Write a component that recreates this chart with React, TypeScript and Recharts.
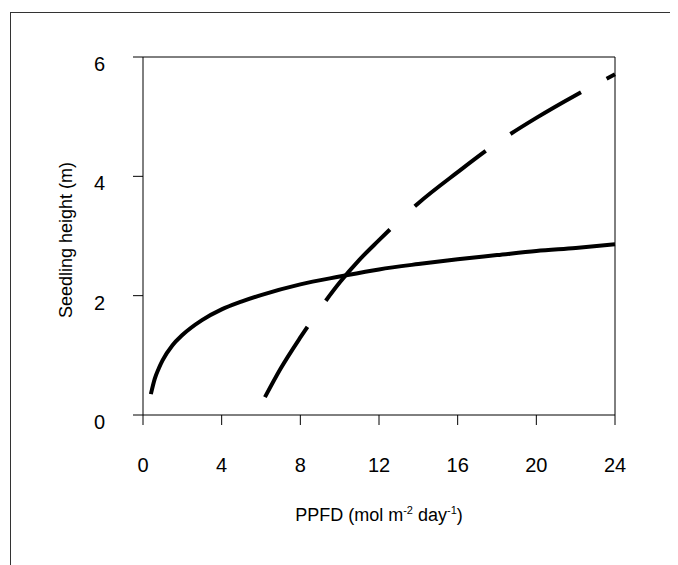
import React from 'react';
import { LineChart, Line, XAxis, YAxis, ReferenceLine, Label } from 'recharts';

// PPFD (x) vs seedling height (y)
const solidX = [0.4, 0.6, 0.8, 1, 1.5, 2, 3, 4, 5, 6, 8, 10, 12, 14, 16, 18, 20, 22, 24];
const solidY = [0.35, 0.61, 0.78, 0.92, 1.17, 1.34, 1.59, 1.77, 1.9, 2.01, 2.19, 2.32, 2.44, 2.53, 2.61, 2.68, 2.75, 2.8, 2.86];

const dashedX = [6.2, 7, 8, 9, 10, 11, 12, 13, 14, 16, 18, 20, 22, 24];
const dashedY = [0.3, 0.78, 1.3, 1.78, 2.22, 2.6, 2.93, 3.25, 3.55, 4.07, 4.56, 4.98, 5.36, 5.71];

const xTicks = [0, 4, 8, 12, 16, 20, 24];
const yTicks = [0, 2, 4, 6];

const solidData = solidX.map((x, i) => ({ x, y: solidY[i] }));
const dashedData = dashedX.map((x, i) => ({ x, y: dashedY[i] }));

const font = 'Arial, "Liberation Sans", sans-serif';

const XTitle = (props: any) => {
    const vb = props.viewBox;
    const cx = vb.x + vb.width / 2;
    return (
        <text x={cx} y={513} textAnchor="middle" fontFamily={font} fontSize={18} fill="#000">
            PPFD (mol m<tspan fontSize={11} dy={-7}>-2</tspan>
            <tspan dy={7}> day</tspan>
            <tspan fontSize={11} dy={-7}>-1</tspan>
            <tspan dy={7}>)</tspan>
        </text>
    );
};

const YTitle = (props: any) => {
    const vb = props.viewBox;
    const cy = vb.y + vb.height / 2 + 4;
    return (
        <text
            x={58}
            y={cy}
            transform={`rotate(-90, 58, ${cy})`}
            textAnchor="middle"
            dominantBaseline="central"
            fontFamily={font}
            fontSize={18}
            fill="#000"
        >
            Seedling height (m)
        </text>
    );
};

// Excel puts the y labels a few px below their tick
const YTick = (props: any) => {
    const { x, y, payload } = props;
    return (
        <text x={x} y={y + 7} dy="0.355em" textAnchor="end" fontFamily={font} fontSize={20} fill="#000">
            {payload.value}
        </text>
    );
};

export default function App() {
    return (
        <div style={{ position: 'relative', width: 670, height: 557 }}>
            <div
                style={{
                    position: 'absolute',
                    left: 2,
                    top: 4,
                    width: 668,
                    height: 553,
                    borderTop: '1px solid #333',
                    borderLeft: '1px solid #333',
                    boxSizing: 'border-box'
                }}
            />
            <div style={{ position: 'absolute', left: 0, top: 0 }}>
                <LineChart width={670} height={557} margin={{ top: 49, right: 63, left: 0, bottom: 0 }}>
                    <XAxis
                        dataKey="x"
                        type="number"
                        domain={[0, 24]}
                        ticks={xTicks}
                        allowDuplicatedCategory={false}
                        height={150}
                        tickSize={10}
                        tickMargin={33}
                        stroke="#000"
                        tick={{ fill: '#000', fontSize: 20, fontFamily: font }}
                    >
                        <Label content={XTitle} />
                    </XAxis>
                    <YAxis
                        dataKey="y"
                        type="number"
                        domain={[0, 6]}
                        ticks={yTicks}
                        width={135}
                        tickSize={10}
                        tickMargin={28}
                        stroke="#000"
                        tick={YTick}
                    >
                        <Label content={YTitle} />
                    </YAxis>
                    <ReferenceLine y={6} stroke="#000" />
                    <ReferenceLine x={24} stroke="#000" />
                    <Line
                        data={solidData}
                        dataKey="y"
                        type="monotone"
                        stroke="#000"
                        strokeWidth={4}
                        dot={false}
                        activeDot={false}
                        isAnimationActive={false}
                    />
                    <Line
                        data={dashedData}
                        dataKey="y"
                        type="monotone"
                        stroke="#000"
                        strokeWidth={4}
                        strokeDasharray="82 32 96 34 90 30 82 29 80 30"
                        dot={false}
                        activeDot={false}
                        isAnimationActive={false}
                    />
                </LineChart>
            </div>
        </div>
    );
}
